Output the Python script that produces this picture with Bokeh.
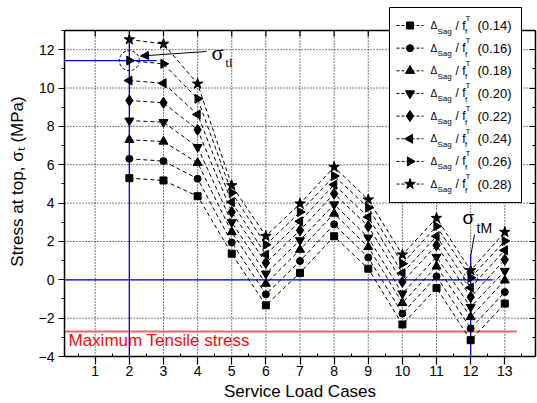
from bokeh.plotting import figure
from bokeh.models import (FixedTicker, LinearAxis, Label, Arrow, NormalHead, Range1d)
from bokeh.embed import file_html
from bokeh.resources import INLINE

# ---------------- data ----------------
load_cases = [2, 3, 4, 5, 6, 7, 8, 9, 10, 11, 12, 13]
x_ticks = list(range(1, 14))
y_ticks = [-4, -2, 0, 2, 4, 6, 8, 10, 12]
ratios = ["0.14", "0.16", "0.18", "0.20", "0.22", "0.24", "0.26", "0.28"]

s014 = [5.30, 5.18, 4.36, 1.36, -1.33, 0.36, 2.27, 0.58, -2.33, -0.43, -3.15, -1.24]
s016 = [6.31, 6.19, 5.27, 1.94, -0.76, 0.98, 2.89, 1.16, -1.76, 0.18, -2.54, -0.64]
s018 = [7.30, 7.21, 6.10, 2.49, -0.20, 1.57, 3.45, 1.71, -1.21, 0.70, -1.94, -0.03]
s020 = [8.30, 8.22, 6.92, 3.00, 0.32, 2.06, 3.93, 2.20, -0.72, 1.19, -1.42, 0.46]
s022 = [9.35, 9.23, 7.82, 3.53, 0.88, 2.58, 4.49, 2.79, -0.11, 1.80, -0.90, 1.05]
s024 = [10.39, 10.25, 8.62, 4.05, 1.31, 3.05, 4.96, 3.27, 0.35, 2.27, -0.41, 1.54]
s026 = [11.43, 11.26, 9.44, 4.54, 1.83, 3.53, 5.41, 3.76, 0.84, 2.79, 0.11, 2.02]
s028 = [12.53, 12.30, 10.22, 4.92, 2.28, 3.97, 5.88, 4.18, 1.31, 3.22, 0.49, 2.49]
series = [s014, s016, s018, s020, s022, s024, s026, s028]

max_tensile = -2.7
sigma_tM_top = 1.35

# ---------------- geometry ----------------
XMIN, XMAX, YMIN, YMAX = 0.1, 13.9, -4.0, 13.0
W, H = 537, 403
FL, FR, FT, FB = 64.0, 535.0, 30.0, 356.0   # axes box in canvas pixels
VIEW_TOP = 6.0                                # drawing area reaches above the box (legend)
PX_PER_Y = (FB - FT) / (YMAX - YMIN)
YTOP = YMIN + (FB - VIEW_TOP) / PX_PER_Y


def dx(px):
    return XMIN + (px - FL) / (FR - FL) * (XMAX - XMIN)


def dy(py):
    return YMIN + (FB - py) / PX_PER_Y


FONT = "Liberation Sans"
SERIF = "Liberation Serif"

p = figure(width=W, height=H, x_range=Range1d(XMIN, XMAX),
           y_range=Range1d(YMIN, YTOP), output_backend="svg",
           toolbar_location=None, min_border_left=int(FL),
           min_border_right=int(W - FR), min_border_top=int(VIEW_TOP),
           min_border_bottom=int(H - FB))
p.background_fill_color = "white"
p.border_fill_color = "white"
p.outline_line_color = None
p.xgrid.visible = False
p.ygrid.visible = False

xt = FixedTicker(ticks=x_ticks, minor_ticks=[i + 0.5 for i in range(0, 14)])
yt = FixedTicker(ticks=y_ticks, minor_ticks=list(range(-3, 14, 2)))

xa = p.xaxis[0]
xa.ticker = xt
xa.axis_label = "Service Load Cases"
xa.major_tick_out = 8
xa.major_tick_in = 0
xa.minor_tick_in = 3
xa.minor_tick_out = 0
xa.major_label_standoff = 1
xa.axis_label_standoff = 3

ya = p.yaxis[0]
ya.ticker = yt
ya.bounds = (YMIN, YMAX)
ya.axis_label = "Stress at top, σₜ (MPa)"
ya.major_tick_out = 6
ya.major_tick_in = 0
ya.minor_tick_out = 3
ya.minor_tick_in = 0
ya.major_label_standoff = 4
ya.axis_label_standoff = 9

for ax in (xa, ya):
    ax.axis_line_color = "black"
    ax.axis_line_width = 1.5
    ax.major_tick_line_color = "black"
    ax.major_tick_line_width = 1.2
    ax.minor_tick_line_color = "black"
    ax.major_label_text_font = FONT
    ax.major_label_text_font_size = "14px"
    ax.major_label_text_color = "black"
    ax.axis_label_text_font = FONT
    ax.axis_label_text_font_size = "17px"
    ax.axis_label_text_font_style = "normal"
    ax.axis_label_text_color = "black"

right = LinearAxis(ticker=yt, bounds=(YMIN, YMAX), major_tick_in=6, major_tick_out=0,
                   minor_tick_in=3, minor_tick_out=0, major_label_text_font_size="0px",
                   major_label_text_color=None, major_label_standoff=0,
                   axis_line_width=1.5)
p.add_layout(right, "right")

# dotted grid inside the axes box
p.segment(x0=x_ticks, y0=[YMIN] * len(x_ticks), x1=x_ticks, y1=[YMAX] * len(x_ticks),
          line_color="black", line_dash="1 2", line_width=1)
p.segment(x0=[XMIN] * len(y_ticks), y0=y_ticks, x1=[XMAX] * len(y_ticks), y1=y_ticks,
          line_color="black", line_dash="1 2", line_width=1)
# top edge of the axes box with inward ticks
p.segment(x0=[XMIN], y0=[YMAX], x1=[XMAX], y1=[YMAX], line_color="black", line_width=1.5)
p.segment(x0=x_ticks, y0=[YMAX] * len(x_ticks), x1=x_ticks,
          y1=[YMAX - 6 / PX_PER_Y] * len(x_ticks), line_color="black", line_width=1.2)

# reference lines
p.segment(x0=[XMIN], y0=[max_tensile], x1=[13.35], y1=[max_tensile],
          line_color="#f26565", line_width=2)
p.segment(x0=[load_cases[0]], y0=[YMIN], x1=[load_cases[0]], y1=[s028[0] + 0.1],
          line_color="#0000ff", line_width=1.3)
p.segment(x0=[XMIN], y0=[s026[0]], x1=[2.8], y1=[s026[0]],
          line_color="#0000ff", line_width=1.3)
p.segment(x0=[XMIN], y0=[0], x1=[12.65], y1=[0],
          line_color="#0000ff", line_width=1.3)
p.segment(x0=[load_cases[10]], y0=[YMIN], x1=[load_cases[10]], y1=[sigma_tM_top],
          line_color="#0000ff", line_width=1.3)

markers = [("square", 0, 7), ("circle", 0, 7), ("triangle", 0, 9),
           ("inverted_triangle", 0, 9), ("diamond", 0, 11),
           ("triangle", 1.5707963, 9), ("triangle", -1.5707963, 9),
           ("star", 0, 11)]

for ys, (mk, ang, sz) in zip(series, markers):
    p.line(load_cases, ys, line_color="black", line_width=1, line_dash="4 3")
    p.scatter(load_cases, ys, marker=mk, angle=ang, size=sz,
              fill_color="black", line_color="black")

# dashed circles marking sigma_tI and sigma_tM
p.scatter([load_cases[0]], [s026[0]], marker="circle", size=20, fill_color=None,
          line_color="black", line_dash="3 2", line_width=1)
p.scatter([load_cases[10]], [s026[10]], marker="circle", size=14, fill_color=None,
          line_color="black", line_dash="2 2", line_width=1)


def lab(text, px, py, size, font=FONT, color="black", baseline="middle",
        align="left"):
    p.add_layout(Label(x=dx(px), y=dy(py), text=text, text_font=font,
                       text_font_size=size, text_color=color,
                       text_baseline=baseline, text_align=align))


# ---------------- legend (box, keys, texts) ----------------
LEG_L, LEG_R, LEG_T, LEG_B = 389, 521, 7, 202
p.quad(left=[dx(LEG_L)], right=[dx(LEG_R)], top=[dy(LEG_T)], bottom=[dy(LEG_B)],
       fill_color="white", fill_alpha=1.0, line_color="black", line_width=1)
for i, ((mk, ang, sz), r) in enumerate(zip(markers, ratios)):
    cy = 25 + 22.65 * i
    p.segment(x0=[dx(396)], y0=[dy(cy)], x1=[dx(423)], y1=[dy(cy)],
              line_color="black", line_width=1, line_dash="3 2")
    p.scatter([dx(409.5)], [dy(cy)], marker=mk, angle=ang, size=sz,
              fill_color="black", line_color="black")
    lab("Δ", 430, cy, "10px")
    lab("Sag", 437, cy + 5.5, "8px")
    lab("/ f", 455, cy, "12px")
    lab("f", 464.5, cy + 6, "8px")
    lab("T", 465, cy - 7.5, "8px")
    lab("(" + r + ")", 477, cy, "13px")

# sigma_tI annotation
lab("σ", 211, 52, "22px", font=SERIF, baseline="alphabetic")
lab("tI", 225, 62, "12px", font=SERIF, baseline="alphabetic")
p.add_layout(Arrow(x_start=dx(206), y_start=dy(51), x_end=dx(140), y_end=dy(55.5),
                   line_color="black", line_width=1,
                   end=NormalHead(size=8, fill_color="black", line_color="black")))

# sigma_tM annotation
lab("σ", 462, 217, "19px", baseline="alphabetic")
lab("tM", 476, 227, "14px", baseline="alphabetic")
p.segment(x0=[dx(474)], y0=[dy(234)], x1=[dx(470.5)], y1=[dy(254)],
          line_color="black", line_width=1)

# maximum tensile stress
lab("Maximum Tensile stress", 68, 340, "17px", color="#f01010", baseline="alphabetic")

open("out.html", "w").write(file_html(p, INLINE))
